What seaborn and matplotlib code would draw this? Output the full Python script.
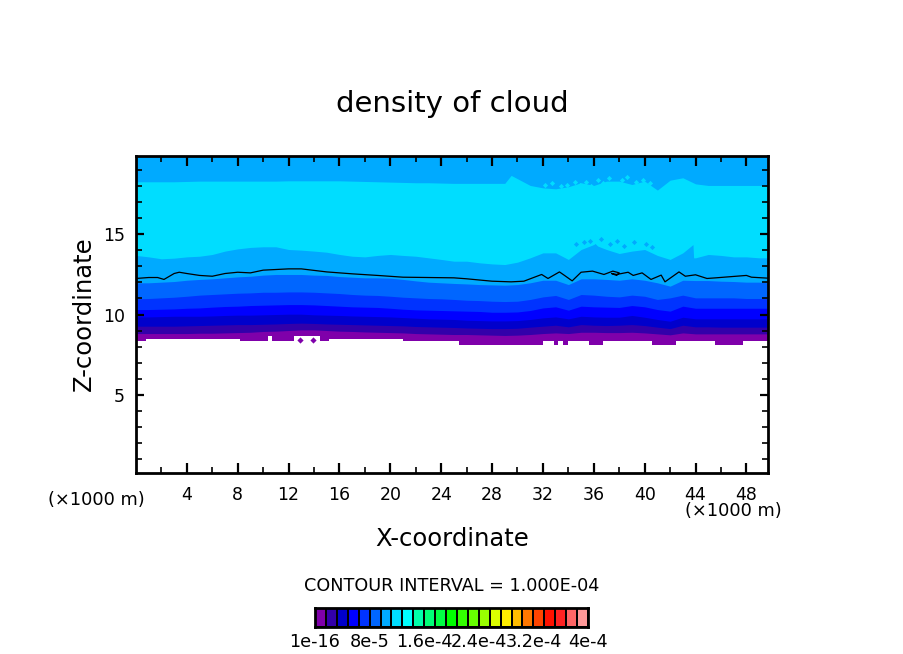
import matplotlib
matplotlib.use("Agg")
import matplotlib.pyplot as plt
import numpy as np
import seaborn as sns
from matplotlib.colors import ListedColormap

x_km = list(range(50)) + [49.7]
x_a = list(range(30)) + [29.5] + list(range(30, 50)) + [49.7]
b_a = [18.29,18.29,18.29,18.29,18.31,18.33,18.33,18.33,18.33,18.33,18.33,18.33,18.35,18.35,18.35,18.35,18.35,18.33,18.31,18.29,18.27,18.25,18.23,18.23,18.21,
       18.19,18.19,18.19,18.19,18.19,18.69,18.48,18.06,17.91,17.85,17.98,18.23,18.06,18.33,18.33,18.12,18.33,17.77,18.39,18.54,18.16,18.06,18.06,18.06,18.06,18.06,18.06]
x_b = list(range(44)) + [43.8, 43.85] + list(range(44, 50)) + [49.7]
b_b = [13.69,13.60,13.48,13.52,13.60,13.64,13.75,13.96,14.10,14.19,14.23,14.23,14.06,14.02,13.96,13.89,13.75,13.64,13.60,13.69,13.75,13.69,13.64,13.54,13.44,
       13.33,13.33,13.23,13.16,13.12,13.27,13.54,13.85,13.85,13.44,14.06,14.37,14.06,13.81,13.96,14.06,13.69,13.44,13.85,14.37,13.54,13.54,13.75,13.69,13.60,13.60,13.54,13.54]
b_c = [11.98,11.98,12.02,12.06,12.14,12.19,12.23,12.29,12.35,12.39,12.46,12.50,12.50,12.50,12.46,12.44,12.37,12.33,12.29,12.29,12.27,12.19,12.10,12.02,11.98,
       11.94,11.91,11.87,11.85,11.83,11.87,11.98,12.14,12.14,11.87,12.23,12.23,12.19,12.14,12.23,12.14,11.98,11.77,12.14,12.12,12.12,12.08,12.06,12.02,12.02,11.98]
b_d = [10.98,11.00,11.04,11.08,11.14,11.21,11.25,11.29,11.33,11.35,11.39,11.39,11.41,11.41,11.39,11.35,11.31,11.25,11.21,11.19,11.14,11.08,11.04,11.00,10.98,
       10.94,10.89,10.87,10.83,10.81,10.83,10.94,11.10,11.19,10.94,11.25,11.21,11.14,11.10,11.21,11.14,10.94,11.04,11.21,11.04,11.04,11.04,11.04,11.00,11.00,10.98]
b_e = [10.31,10.31,10.33,10.35,10.39,10.41,10.46,10.50,10.52,10.56,10.58,10.60,10.62,10.62,10.60,10.56,10.52,10.48,10.46,10.44,10.39,10.33,10.29,10.27,10.25,
       10.23,10.21,10.19,10.14,10.14,10.16,10.25,10.41,10.48,10.27,10.52,10.48,10.46,10.44,10.56,10.48,10.31,10.21,10.52,10.39,10.39,10.39,10.39,10.39,10.39,10.39]
b_f = [9.85,9.85,9.87,9.89,9.89,9.89,9.91,9.94,9.96,9.96,9.98,10.00,10.02,10.02,9.98,9.96,9.94,9.91,9.89,9.87,9.85,9.81,9.77,9.73,9.71,
       9.69,9.64,9.62,9.60,9.60,9.62,9.69,9.79,9.85,9.73,9.89,9.85,9.83,9.83,9.94,9.83,9.69,9.58,9.83,9.73,9.73,9.73,9.73,9.73,9.73,9.73]
b_g = [9.27,9.27,9.27,9.27,9.29,9.31,9.33,9.35,9.37,9.37,9.39,9.41,9.44,9.46,9.44,9.41,9.39,9.37,9.35,9.33,9.31,9.29,9.25,9.23,9.21,
       9.19,9.16,9.14,9.12,9.12,9.14,9.21,9.27,9.33,9.23,9.37,9.33,9.31,9.33,9.37,9.31,9.21,9.12,9.33,9.23,9.23,9.21,9.21,9.21,9.21,9.21]
b_h = [8.81,8.81,8.81,8.81,8.81,8.83,8.83,8.85,8.87,8.89,8.94,8.96,9.00,9.04,9.04,9.00,8.96,8.94,8.91,8.89,8.87,8.85,8.81,8.79,8.77,
       8.75,8.75,8.73,8.71,8.69,8.71,8.75,8.81,8.85,8.81,8.89,8.89,8.87,8.87,8.89,8.85,8.79,8.73,8.85,8.79,8.79,8.79,8.79,8.79,8.79,8.79]
boundaries = [(x_a, b_a), (x_b, b_b), (x_km, b_c), (x_km, b_d), (x_km, b_e), (x_km, b_f), (x_km, b_g), (x_km, b_h)]

cloud_base_x = [0,0.8,8.2,10.4,10.7,12.4,14.45,15.2,21,25.4,32,32.9,33.2,33.6,34,35.6,36.7,40.6,42.5,45.5,47.7,49.7]
cloud_base_z = [8.33,8.50,8.33,8.64,8.33,8.64,8.33,8.50,8.33,8.12,8.33,8.12,8.33,8.12,8.33,8.12,8.33,8.12,8.33,8.12,8.33,8.33]
isolated_x = [12.9, 13.9]
isolated_z = [8.43, 8.43]

speck_upper_x = [32.2,32.7,33.4,33.9,34.5,34.9,35.4,35.8,36.3,36.7,37.2,37.6,38.2,38.6,39.3,39.9,40.4]
speck_upper_z = [18.1,18.2,18.0,18.1,18.3,18.1,18.3,18.0,18.4,18.2,18.5,18.1,18.4,18.6,18.3,18.4,18.2]
speck_lower_x = [34.6,35.2,35.7,36.1,36.6,37.3,37.8,38.4,39.2,40.1,40.6]
speck_lower_z = [14.4,14.5,14.6,14.3,14.7,14.4,14.6,14.3,14.5,14.4,14.2]

line_x = [0,1,1.7,2.2,3,3.4,4,5,6,7,8,9,10,12,13,15,17,19,21,23,25,26,28,29.5,30.5,31.2,31.9,32.4,33.3,33.7,34.3,35.0,35.9,36.8,37.5,38.0,37.8,37.4,37.8,38.7,39.1,39.8,40.5,41.3,41.6,42.7,43.2,44.0,44.9,45.6,48,48.4,49.7]
line_z = [12.25,12.31,12.31,12.19,12.56,12.64,12.56,12.44,12.39,12.56,12.64,12.60,12.77,12.85,12.85,12.66,12.54,12.44,12.33,12.31,12.29,12.23,12.08,12.04,12.08,12.29,12.50,12.25,12.66,12.44,12.10,12.64,12.71,12.50,12.71,12.60,12.44,12.56,12.50,12.64,12.44,12.60,12.19,12.46,12.04,12.66,12.39,12.48,12.25,12.29,12.44,12.33,12.27]

band_colors = ["#00AAFF","#00DDFF","#00AAFF","#0066FF","#0033FF","#0000FF","#0000CC","#3300AA","#7F00AA"]
scale_colors = ["#7F00AA","#3300AA","#0000CC","#0000FF","#0033FF","#0066FF","#00AAFF","#00DDFF","#00FFFF","#00FFAA","#00FF77","#00FF44","#00FF00","#33FF00","#66FF00","#99FF00","#DDFF00","#FFEE00","#FFBB00","#FF7700","#FF4400","#FF1100","#FF2222","#FF6666","#FF9999"]
scale_labels = ["1e-16","8e-5","1.6e-4","2.4e-4","3.2e-4","4e-4"]
x_ticks = list(range(4, 49, 4))
y_ticks = [5, 10, 15]

sns.set_style("ticks")
plt.rcParams["font.family"] = ["DejaVu Sans"]
plt.rcParams["axes.edgecolor"] = "black"
W, H = 904, 654
fig = plt.figure(figsize=(W/100, H/100), dpi=100)
def box(l, t, r, b):
    return [l/W, 1-b/H, (r-l)/W, (b-t)/H]
ax = fig.add_axes(box(136, 156, 768, 473))
xlim = (0, 49.7); ylim = (0.1, 19.9)
ax.set_xlim(*xlim); ax.set_ylim(*ylim)
ax.set_axisbelow(False)
ax.fill_between(xlim, ylim[0], ylim[1], color=band_colors[0], lw=0, zorder=1)
for i, (xs, b) in enumerate(boundaries):
    ax.fill_between(xs, ylim[0], b, color=band_colors[i+1], lw=0, zorder=1.01 + i*0.01)
ax.scatter(speck_upper_x, speck_upper_z, marker="D", s=7, color=band_colors[1], lw=0, zorder=1.005)
ax.scatter(speck_lower_x, speck_lower_z, marker="D", s=7, color=band_colors[2], lw=0, zorder=1.015)
ax.fill_between(cloud_base_x, ylim[0], cloud_base_z, step="post", color="white", lw=0, zorder=1.5)
ax.scatter(isolated_x, isolated_z, marker="D", s=10, color=band_colors[-1], lw=0, zorder=1.6)
sns.lineplot(x=line_x, y=line_z, sort=False, estimator=None, color="black", lw=0.9, ax=ax, zorder=1.8)

ax.set_xticks(x_ticks); ax.set_yticks(y_ticks)
ax.set_xticks(range(2, 50, 4), minor=True)
ax.set_yticks([v for v in range(1, 20) if v % 5], minor=True)
ax.tick_params(which="major", direction="in", top=True, right=True, labelsize=12.5, width=1.6, length=7, pad=9, color="black", labelcolor="black")
ax.tick_params(which="minor", direction="in", top=True, right=True, width=1.2, length=4, color="black")
ax.tick_params(axis="y", which="major", length=6, pad=8)
for s in ax.spines.values():
    s.set_linewidth(2); s.set_color("black"); s.set_visible(True)

def T(px, py, s, size, **kw):
    fig.text(px/W, 1-py/H, s, ha="center", va="center", fontsize=size, color="black", **kw)
T(452, 104, "density of cloud", 21)
T(452, 539, "X-coordinate", 17.5)
T(84, 314, "Z-coordinate", 17.5, rotation=90)
T(96, 500, "(×1000 m)", 12.8)
T(733, 511, "(×1000 m)", 12.8)
T(452, 586, "CONTOUR INTERVAL = 1.000E-04", 12.7)

cax = fig.add_axes(box(315, 608, 588, 627))
sns.heatmap(np.arange(25).reshape(1, 25), ax=cax, cmap=ListedColormap(scale_colors), cbar=False,
            linewidths=1.2, linecolor="black", xticklabels=False, yticklabels=False)
for s in cax.spines.values():
    s.set_visible(True); s.set_linewidth(2); s.set_color("black")
cax.tick_params(left=False, bottom=False)
for i, lab in enumerate(scale_labels):
    T(315 + i*54.6, 642, lab, 12.7)
fig.savefig("out.png", dpi=100, facecolor="white")
